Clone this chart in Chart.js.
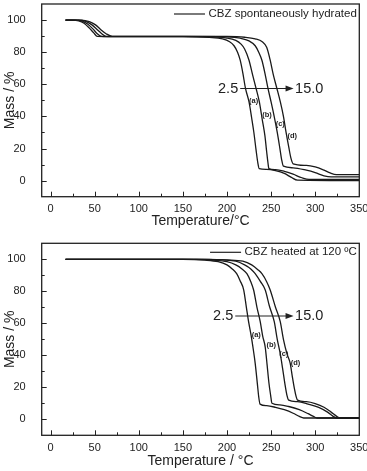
<!DOCTYPE html>
<html>
<head>
<meta charset="utf-8">
<script src="https://cdn.jsdelivr.net/npm/chart.js@4.4.1/dist/chart.umd.min.js"></script>
<style>
  html, body { margin: 0; padding: 0; background: #fff; }
  .box { position: relative; width: 367px; }
  #w1 { height: 235px; }
  #w2 { height: 236px; }
</style>
</head>
<body>
<div class="box" id="w1"><canvas id="c1"></canvas></div>
<div class="box" id="w2"><canvas id="c2"></canvas></div>
<script>
// ---------- Top panel: CBZ spontaneously hydrated ----------
const topLegend = 'CBZ spontaneously hydrated';
const topXTitle = 'Temperature/°C';
const tA = [17,25,32,38,44,49,53,60,100,150,180,195,203,208,212,215,218,221,225,228,230.5,233,235,236.5,245,255,265,273,280,350];
const mA = [100,100,99.5,98,95,92,89.8,89.7,89.7,89.7,89.2,88.3,86.5,84,80,75,67,57.4,49,39,30,19,11,7.5,7,6.2,4.5,2,0.3,0];
const tB = [17,28,36,42,48,53,58,65,100,150,185,200,210,216,220,225,229,233,236.7,240,243,245,246.5,247.5,255,265,275,285,293,350];
const mB = [100,100,99.3,97.5,94.5,91.5,89.8,89.7,89.7,89.7,89.4,88.8,87.3,85,82,75,66,57.4,49,38,28,18,11,7.5,6.8,5.8,4,1.8,0.8,0.8];
const tC = [17,32,40,47,53,58,63,70,100,150,200,215,225,232,236,239.6,243,246.5,250,253.5,257,260,262,264,275,290,300,310,318,350];
const mC = [100,100,99.2,97,94,91.5,89.8,89.8,89.8,89.8,89.5,88.7,87,84,80,75,67,57.4,49,40,30,20,13,9,8,6.5,5,3,2.3,2.3];
const tD = [17,35,44,51,57,63,70,75,100,150,200,220,232,240,245,249,252.5,256.6,260.5,264,267,270,272.5,275,290,300,310,317,324,350];
const mD = [100,100,99,97,94,91.5,89.9,89.9,89.9,89.9,89.8,89.3,88.3,86.5,83,75,66,57.4,49,40,30,21,14,10.5,9.5,8.5,6.5,4.8,3.8,3.8];
const topTagX = [230.2, 245.3, 260.4, 274];
const topTagY = [49.5, 40.7, 35.1, 27.7];
const topArrowX = [215, 275.5];
const topArrowY = 57.4;

// ---------- Bottom panel: CBZ heated at 120 ºC ----------
const botLegend = 'CBZ heated at 120 ºC';
const botXTitle = 'Temperature / °C';
const tA2 = [17,150,175,190,200,206,211,215,219,222,224.5,227.5,230,232,234.5,236,237.5,245,255,265,275,282,287,350];
const mA2 = [100,100,99.5,98.5,96.5,94,91,86.5,80.8,70,61,52,43,35,22,14,9.5,8.5,7.5,6,3.8,1.8,0.8,0.8];
const tB2 = [17,165,185,200,210,217,222.6,227,230.2,234,237.7,240.5,243.4,245.5,247.5,249.5,251,260,270,282,292,298,302,350];
const mB2 = [100,100,99.5,98.5,96.5,94,91,86,80.8,70,61,52,45,34,23,15,10,9,8,6,3.5,1.8,0.8,0.8];
const tC2 = [17,175,195,210,220,227,232,238,243.4,248,253.6,257,260.4,263,266,268,270,280,292,304,314,320,324.5,350];
const mC2 = [100,100,99.6,98.8,96.5,94,91,86,80.8,71,61,50,41,32,21,15,12,11,9.5,7.5,4.5,2,0.8,0.8];
const tD2 = [17,180,200,218,228,235,239.6,245,249,255,260.4,264,268,271.7,274,276.5,278.5,280,290,300,310,318,324,328,350];
const mD2 = [100,100,99.6,98.8,96.5,93.5,91,86,80.8,70,61,50,41,35,27,19,14,12,11,9.8,7.5,4.5,2,0.8,0.8];
const botTagX = [233.2, 250.2, 264.5, 277.7];
const botTagY = [52.7, 46.5, 40.8, 35];
const botArrowX = [209.4, 275.5];
const botArrowY = 64.6;

// ---------- shared ----------
const curveTags = ['(a)', '(b)', '(c)', '(d)'];
const rateFrom = '2.5';
const rateTo = '15.0';
const yTitle = 'Mass / %';
const xMin = -10, xMax = 350, yMin = -10, yMax = 110;

const FONT = '"Liberation Sans", Arial, Helvetica, sans-serif';
Chart.defaults.font.family = FONT;
Chart.defaults.color = '#222';

function pts(t, m) { return t.map((v, i) => ({ x: v, y: m[i] })); }

const decor = {
  id: 'decor',
  afterDraw(chart, args, o) {
    const { ctx, chartArea: a, scales: { x, y } } = chart;
    ctx.save();
    ctx.strokeStyle = '#222';
    ctx.fillStyle = '#222';
    // frame
    ctx.lineWidth = 1.3;
    ctx.strokeRect(a.left, a.top, a.right - a.left, a.bottom - a.top);
    // inward ticks
    ctx.lineWidth = 1;
    ctx.beginPath();
    x.ticks.forEach(t => {
      if (t.value < 0 || t.value >= xMax) return;
      const px = Math.round(x.getPixelForValue(t.value)) + 0.5;
      const len = t.value % 50 === 0 ? 5 : 3;
      ctx.moveTo(px, a.bottom); ctx.lineTo(px, a.bottom - len);
    });
    y.ticks.forEach(t => {
      if (t.value <= yMin || t.value >= yMax) return;
      const py = Math.round(y.getPixelForValue(t.value)) + 0.5;
      const len = t.value % 20 === 0 ? 5 : 3;
      ctx.moveTo(a.left, py); ctx.lineTo(a.left + len, py);
    });
    ctx.stroke();
    // legend (inside, top right)
    ctx.font = '11.5px ' + FONT;
    ctx.textAlign = 'right';
    ctx.textBaseline = 'middle';
    const ly = a.top + o.legendDy;
    const tr = a.right - 2.5;
    ctx.fillText(o.legend, tr, ly);
    const tw = ctx.measureText(o.legend).width;
    ctx.lineWidth = 1.2;
    ctx.beginPath();
    ctx.moveTo(tr - tw - 3.5, ly); ctx.lineTo(tr - tw - 3.5 - 31, ly);
    ctx.stroke();
    // rate arrow
    const ay = y.getPixelForValue(o.arrowY);
    const ax1 = x.getPixelForValue(o.arrowX[0]);
    const ax2 = x.getPixelForValue(o.arrowX[1]);
    ctx.lineWidth = 1.1;
    ctx.beginPath();
    ctx.moveTo(ax1, ay); ctx.lineTo(ax2 - 5, ay);
    ctx.stroke();
    ctx.beginPath();
    ctx.moveTo(ax2, ay); ctx.lineTo(ax2 - 8, ay - 3); ctx.lineTo(ax2 - 8, ay + 3); ctx.closePath();
    ctx.fill();
    ctx.font = '14.5px ' + FONT;
    ctx.textAlign = 'right';
    ctx.fillText(rateFrom, ax1 - 2, ay + 0.5);
    ctx.textAlign = 'left';
    ctx.fillText(rateTo, ax2 + 1.5, ay + 0.5);
    // curve tags
    ctx.font = 'bold 7.5px ' + FONT;
    ctx.textAlign = 'center';
    curveTags.forEach((s, i) => {
      ctx.fillText(s, x.getPixelForValue(o.tagX[i]), y.getPixelForValue(o.tagY[i]));
    });
    ctx.restore();
  }
};

function makeChart(id, sets, cfg) {
  const datasets = sets.map(([t, m]) => ({
    data: pts(t, m),
    borderColor: '#1a1a1a',
    borderWidth: 1.3,
    pointRadius: 0,
    fill: false,
    cubicInterpolationMode: 'monotone'
  }));
  return new Chart(document.getElementById(id), {
    type: 'line',
    data: { datasets },
    plugins: [decor],
    options: {
      responsive: true,
      maintainAspectRatio: false,
      animation: false,
      layout: { padding: { top: cfg.padTop, right: 7.7, left: 0, bottom: 0 } },
      plugins: {
        legend: { display: false },
        tooltip: { enabled: false },
        decor: cfg.decor
      },
      scales: {
        x: {
          type: 'linear',
          min: xMin, max: xMax,
          grid: { display: false },
          border: { display: false },
          ticks: {
            stepSize: 25,
            includeBounds: false,
            autoSkip: false,
            maxRotation: 0,
            padding: -2,
            font: { size: 11 },
            color: '#222',
            callback: v => (v >= 0 && v % 50 === 0) ? String(v) : ''
          },
          title: { display: true, text: cfg.xTitle, font: { size: 14 }, color: '#222', padding: { top: 0, bottom: cfg.xTitlePad } },
          afterFit: s => { s.height = cfg.xAxisH; s.paddingLeft = 0; s.paddingRight = 0; }
        },
        y: {
          min: yMin, max: yMax,
          grid: { display: false },
          border: { display: false },
          ticks: {
            stepSize: 10,
            includeBounds: false,
            autoSkip: false,
            padding: 8,
            font: { size: 11 },
            color: '#222',
            callback: v => (v >= 0 && v <= 100 && v % 20 === 0) ? String(v) : ''
          },
          title: { display: true, text: yTitle, font: { size: 14 }, color: '#222', padding: { top: 2, bottom: 0 } },
          afterFit: s => { s.width = 41.7; s.paddingTop = 0; s.paddingBottom = 0; }
        }
      }
    }
  });
}

makeChart('c1', [[tA, mA], [tB, mB], [tC, mC], [tD, mD]], {
  padTop: 4, xAxisH: 38.3, xTitle: topXTitle, xTitlePad: 5.9,
  decor: { legend: topLegend, legendDy: 10, arrowX: topArrowX, arrowY: topArrowY, tagX: topTagX, tagY: topTagY }
});
makeChart('c2', [[tA2, mA2], [tB2, mB2], [tC2, mC2], [tD2, mD2]], {
  padTop: 8.3, xAxisH: 35.7, xTitle: botXTitle, xTitlePad: 1,
  decor: { legend: botLegend, legendDy: 9, arrowX: botArrowX, arrowY: botArrowY, tagX: botTagX, tagY: botTagY }
});
</script>
</body>
</html>
